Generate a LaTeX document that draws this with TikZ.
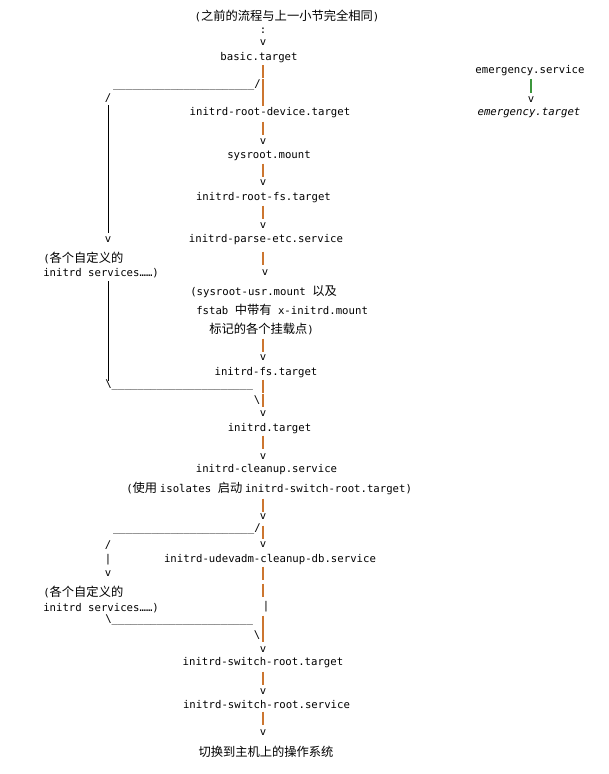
\documentclass[tikz,border=0pt]{standalone}
\usepackage{fontspec}
\setmonofont{DejaVu Sans Mono}
\newfontfamily\cjk{Noto Sans CJK SC}[Scale=1.15]
\usetikzlibrary{positioning}
\definecolor{barorange}{RGB}{204,118,48}
\definecolor{bargreen}{RGB}{60,150,60}
\tikzset{
  txt/.style={inner sep=0pt, font=\ttfamily\fontsize{8}{10}\selectfont},
  bar/.style={draw=barorange, line width=1.4pt},
  lbar/.style={draw=black, line width=0.6pt},
}
\begin{document}
\begin{tikzpicture}[x=0.75pt,y=0.75pt,yscale=-1,xscale=1]
\useasboundingbox (0,0) rectangle (609,774);

% main chain
\node[txt] (prev) at (287,16) {(\cjk 之前的流程与上一小节完全相同\ttfamily)};
\node[txt] (dots) at (263,31) {:};
\node[txt] (v0) at (263,43) {v};
\node[txt] (basic) at (259,58) {basic.target};
\node[txt, anchor=east] (us1) at (261,85) {\_\_\_\_\_\_\_\_\_\_\_\_\_\_\_\_\_\_\_\_\_\_/};
\node[txt] (sl1) at (108,98) {/};
\node[txt] (rootdev) at (270,113) {initrd-root-device.target};
\node[txt] (v1) at (263,142) {v};
\node[txt] (sysroot) at (269,156) {sysroot.mount};
\node[txt] (v2) at (263,183) {v};
\node[txt] (rootfs) at (263.5,198) {initrd-root-fs.target};
\node[txt] (v3) at (263,226) {v};
\node[txt] (parse) at (266,240) {initrd-parse-etc.service};
\node[txt] (vl1) at (108,240) {v};
\node[txt, anchor=west] (cust1a) at (43,258) {(\cjk 各个自定义的};
\node[txt, anchor=west] (cust1b) at (43,273) {initrd services……)};
\node[txt] (v4) at (265,273) {v};
\node[txt, anchor=west] (usr1) at (190,292) {(sysroot-usr.mount {\cjk 以及}};
\node[txt, anchor=west] (usr2) at (196,310) {fstab {\cjk 中带有} x-initrd.mount};
\node[txt, anchor=west] (usr3) at (209,329) {{\cjk 标记的各个挂载点}\ttfamily)};
\node[txt] (v5) at (263,358) {v};
\node[txt] (fs) at (266,373) {initrd-fs.target};
\node[txt, anchor=west] (us2) at (105,385) {\textbackslash\_\_\_\_\_\_\_\_\_\_\_\_\_\_\_\_\_\_\_\_\_\_};
\node[txt] (bs1) at (257,400) {\textbackslash};
\node[txt] (v6) at (263,414) {v};
\node[txt] (initrd) at (269.5,429) {initrd.target};
\node[txt] (v7) at (263,457) {v};
\node[txt] (cleanup) at (266.5,470) {initrd-cleanup.service};
\node[txt, anchor=west] (iso) at (126,488) {(\cjk 使用 \ttfamily isolates \cjk 启动 \ttfamily initrd-switch-root.target)};
\node[txt] (v8) at (263,517) {v};
\node[txt, anchor=east] (us3) at (261,529) {\_\_\_\_\_\_\_\_\_\_\_\_\_\_\_\_\_\_\_\_\_\_/};
\node[txt] (sl2) at (108,545) {/};
\node[txt] (v9) at (263,545) {v};
\node[txt] (udev) at (270,560) {initrd-udevadm-cleanup-db.service};
\node[txt] (pl2) at (108,560) {|};
\node[txt] (vl2) at (108,574) {v};
\node[txt, anchor=west] (cust2a) at (43,592) {(\cjk 各个自定义的};
\node[txt, anchor=west] (cust2b) at (43,608) {initrd services……)};
\node[txt] (pr2) at (266,607) {|};
\node[txt, anchor=west] (us4) at (105,620) {\textbackslash\_\_\_\_\_\_\_\_\_\_\_\_\_\_\_\_\_\_\_\_\_\_};
\node[txt] (bs2) at (257,635) {\textbackslash};
\node[txt] (v10) at (263,650) {v};
\node[txt] (swtarget) at (263,663) {initrd-switch-root.target};
\node[txt] (v11) at (263,692) {v};
\node[txt] (swservice) at (266.5,705) {initrd-switch-root.service};
\node[txt] (v12) at (263,733) {v};
\node[txt] (host) at (266,752) {\cjk 切换到主机上的操作系统};

% emergency branch
\node[txt] (emsvc) at (530,71) {emergency.service};
\node[txt] (vem) at (531,100) {v};
\node[txt] (emtgt) at (529,113) {\itshape emergency.target};
\draw[draw=bargreen, line width=1.2pt] (531,79) -- (531,93);

% orange bars
\foreach \y in {72,86,99,128,170,212,258,345,386,400,442,505,532,573,590,622,635,678,718}
  \draw[bar] (263,\y-6.5) -- (263,\y+6.5);

% left bars
\draw[lbar] (108,105) -- (108,233);
\draw[lbar] (108,281) -- (108,381);
\end{tikzpicture}
\end{document}
